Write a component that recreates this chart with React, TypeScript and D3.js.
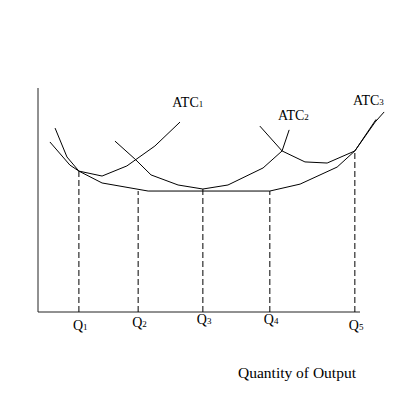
import React from 'react';
import * as d3 from 'd3';

// curves, in (quantity, cost) units of 0..100
const atc1 = [[5.3, 82.1], [9.0, 69.2], [12.7, 62.9], [19.9, 60.7], [27.6, 65.2], [36.3, 74.1], [44.1, 84.8]];
const atc2 = [[23.9, 76.3], [30.1, 68.3], [35.1, 61.2], [43.5, 56.7], [51.2, 54.9], [59.0, 56.7], [69.9, 64.3], [75.8, 71.9], [78.0, 81.3]];
const atc3 = [[68.9, 83.0], [75.8, 71.9], [82.9, 67.0], [89.8, 66.5], [98.4, 71.9], [104.7, 84.8], [107.5, 89.3]];
const lrac = [[3.7, 75.9], [9.9, 65.6], [12.7, 62.9], [19.9, 57.6], [34.2, 54.0], [72.0, 54.0], [81.4, 57.1], [92.9, 64.7], [98.4, 71.9], [105.0, 86.0]];

const qLabels = ['1', '2', '3', '4', '5'];
const qValues = [12.7, 31.1, 51.2, 72.0, 98.4];
const qTops = [62.9, 54.0, 54.9, 54.0, 71.9];
const qLabelY = [-8, -6.5, -5.5, -5.5, -8];

const curveLabels = [
  { sub: '1', q: 41.7, c: 91.5 },
  { sub: '2', q: 74.5, c: 85.5 },
  { sub: '3', q: 97.8, c: 92.5 },
];

const App = () => {
  const width = 400;
  const height = 400;
  const x = d3.scaleLinear().domain([0, 100]).range([38, 360]);
  const y = d3.scaleLinear().domain([0, 100]).range([312, 88]);
  const line = d3.line<number[]>().x((d) => x(d[0])).y((d) => y(d[1]));
  const font = '"Liberation Serif", serif';

  return (
    <div style={{ position: 'absolute', left: 0, top: 0 }}>
      <svg width={width} height={height} style={{ background: '#fff', display: 'block' }}>
        <line x1={x(0)} x2={x(0)} y1={y(0)} y2={y(100)} stroke="#222" strokeWidth={1} />
        <line x1={x(0)} x2={x(100)} y1={y(0)} y2={y(0)} stroke="#222" strokeWidth={1} />

        {qValues.map((q, i) => (
          <line key={'d' + i} x1={x(q)} x2={x(q)} y1={y(0)} y2={y(qTops[i])}
            stroke="#000" strokeWidth={1} strokeDasharray="6,3" />
        ))}

        {[atc1, atc2, atc3, lrac].map((pts, i) => (
          <path key={'c' + i} d={line(pts) || ''} fill="none" stroke="#000" strokeWidth={1} />
        ))}

        {qValues.map((q, i) => (
          <text key={'q' + i} x={x(q) - 6} y={y(qLabelY[i])} fontFamily={font} fontSize={14} fill="#000">
            Q<tspan fontSize={9}>{qLabels[i]}</tspan>
          </text>
        ))}

        {curveLabels.map((l, i) => (
          <text key={'l' + i} x={x(l.q)} y={y(l.c)} fontFamily={font} fontSize={14} fill="#000">
            ATC<tspan fontSize={9}>{l.sub}</tspan>
          </text>
        ))}

        <text x={238} y={378} fontFamily={font} fontSize={15.5} fill="#000">Quantity of Output</text>
      </svg>
    </div>
  );
};

export default App;
